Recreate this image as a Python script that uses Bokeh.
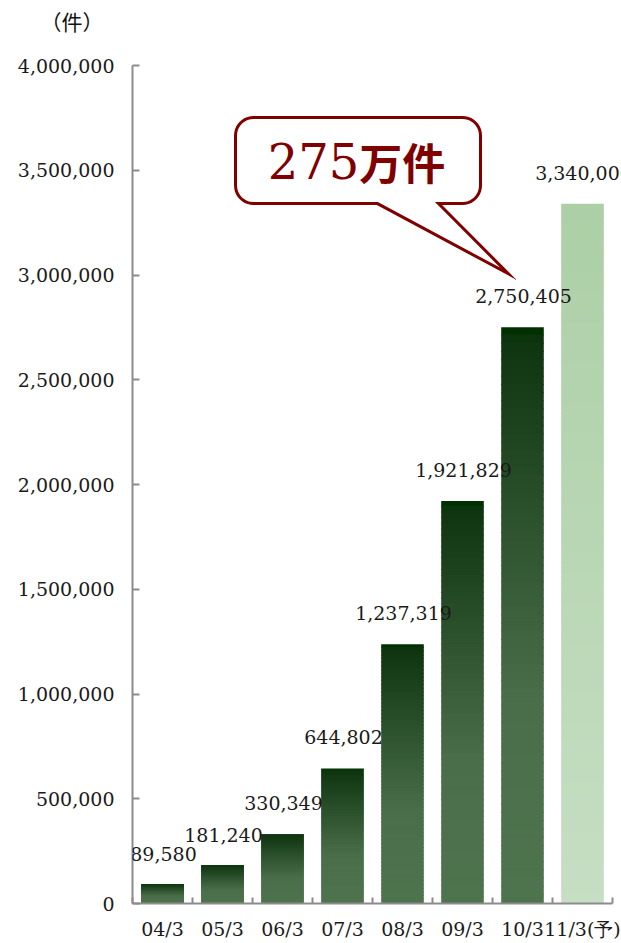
import math
from bokeh.plotting import figure
from bokeh.models import (Range1d, FixedTicker, NumeralTickFormatter, CustomJSTickFormatter,
                          ColumnDataSource, LabelSet)
from bokeh.core.properties import value
from bokeh.embed import file_html
from bokeh.resources import INLINE

# ---------------- data ----------------
categories = ["04/3", "05/3", "06/3", "07/3", "08/3", "09/3", "10/3", "11/3(予)"]
counts = [89580, 181240, 330349, 644802, 1237319, 1921829, 2750405, 3340000]
is_forecast = [False, False, False, False, False, False, False, True]
y_ticks = [0, 500000, 1000000, 1500000, 2000000, 2500000, 3000000, 3500000, 4000000]
unit_label = "（件）"
callout_number = "275"
callout_unit = "万件"
callout_bar_index = 6   # the 10/3 bar the callout points to

# ---------------- layout ----------------
W, H = 621, 943
BL, BR, BT, BB = 132, 0, 65, 40
X_END = 8.15
Y_END = 4000000
px_x = (W - BL - BR) / X_END          # px per category unit
px_y = (H - BT - BB) / Y_END          # px per count

p = figure(width=W, height=H, output_backend="svg", toolbar_location=None,
           x_range=Range1d(0, X_END), y_range=Range1d(0, Y_END),
           min_border_left=BL, min_border_right=BR, min_border_top=BT, min_border_bottom=BB)
p.outline_line_color = None
p.xgrid.visible = False
p.ygrid.visible = False
p.background_fill_color = "white"
p.border_fill_color = "white"

AXIS_COLOR = "#8c8c8c"
TXT = "#1a1a1a"

# ---------------- unit label (title, second line empty to lift it) ----------------
p.title.text = unit_label + "\n\u3000"
p.title.align = "left"
p.title.vertical_align = "bottom"
p.title.offset = 40 - BL
p.title.standoff = 0
p.title.text_line_height = 1.0
p.title.text_font = "Noto Sans CJK JP"
p.title.text_font_size = "21px"
p.title.text_font_style = "normal"
p.title.text_color = "#111111"

# ---------------- gradient bars ----------------
def hex2rgb(h):
    h = h.lstrip("#")
    return tuple(int(h[i:i + 2], 16) for i in (0, 2, 4))

dark_stops = [(0.0, "#003000"), (0.012, "#003000"), (0.025, "#0f3510"),
              (0.65, "#4a6e4a"), (1.0, "#4e744e")]
light_stops = [(0.0, "#accfa6"), (1.0, "#c6dec3")]

def grad(stops, t):
    for (t0, c0), (t1, c1) in zip(stops[:-1], stops[1:]):
        if t <= t1:
            f = 0 if t1 == t0 else (t - t0) / (t1 - t0)
            a, b = hex2rgb(c0), hex2rgb(c1)
            return "#%02x%02x%02x" % tuple(int(round(a[i] + (b[i] - a[i]) * f)) for i in range(3))
    return stops[-1][1]

N = 70
BAR_W = 0.71
overlap = 1.0 / px_y
L, R, B, T, C = [], [], [], [], []
for i, (v, fc) in enumerate(zip(counts, is_forecast)):
    xc = i + 0.5
    stops = light_stops if fc else dark_stops
    for k in range(N):
        t0, t1 = k / N, (k + 1) / N
        L.append(xc - BAR_W / 2)
        R.append(xc + BAR_W / 2)
        T.append(v * (1 - t0) + (overlap if k > 0 else 0))
        B.append(v * (1 - t1))
        C.append(grad(stops, (t0 + t1) / 2))
p.quad(left=L, right=R, bottom=B, top=T, fill_color=C, line_color=None)

# ---------------- value labels ----------------
lab_src = ColumnDataSource(dict(x=[i + 0.5 for i in range(len(counts))], y=counts,
                                text=[f"{v:,}" for v in counts]))
p.add_layout(LabelSet(x="x", y="y", text="text", source=lab_src, text_align="center",
                      text_baseline="middle", x_offset=1, y_offset=31,
                      text_font=value("DejaVu Serif"), text_font_size=value("19px"),
                      text_color=TXT))

# ---------------- axes ----------------
xa = p.xaxis[0]
xa.ticker = FixedTicker(ticks=[i + 0.5 for i in range(len(categories))],
                        minor_ticks=list(range(len(categories) + 1)))
xa.formatter = CustomJSTickFormatter(args=dict(labels=categories),
                                     code="const i = Math.floor(tick); return (i >= 0 && i < labels.length) ? labels[i] : '';")
xa.bounds = (0, len(categories))
xa.axis_line_color = AXIS_COLOR
xa.axis_line_width = 2
xa.major_tick_line_color = None
xa.major_tick_in = 0
xa.major_tick_out = 0
xa.minor_tick_line_color = AXIS_COLOR
xa.minor_tick_line_width = 2
xa.minor_tick_in = 6
xa.minor_tick_out = 0
xa.major_label_standoff = 14
xa.major_label_text_font = "DejaVu Serif"
xa.major_label_text_font_size = "19px"
xa.major_label_text_color = TXT

ya = p.yaxis[0]
ya.ticker = FixedTicker(ticks=y_ticks)
ya.formatter = NumeralTickFormatter(format="0,0")
ya.axis_line_color = AXIS_COLOR
ya.axis_line_width = 2
ya.major_tick_line_color = AXIS_COLOR
ya.major_tick_line_width = 2
ya.major_tick_in = 7
ya.major_tick_out = 0
ya.minor_tick_line_color = None
ya.major_label_standoff = 18
ya.major_label_text_font = "DejaVu Serif"
ya.major_label_text_font_size = "19px"
ya.major_label_text_color = TXT

# ---------------- callout ----------------
DR = "#800000"
box_l, box_r = 1.717, 5.8
box_t, box_b = 3752000, 3341000
rx, ry = 18 / px_x, 18 / px_y
tail_l, tail_r = 4.083, 5.1
tip_x = callout_bar_index + 0.5 - 0.233
tip_y = counts[callout_bar_index] + 255000

def arc(cx, cy, a0, a1, n=10):
    return [(cx + rx * math.cos(math.radians(a0 + (a1 - a0) * j / n)),
             cy + ry * math.sin(math.radians(a0 + (a1 - a0) * j / n))) for j in range(n + 1)]

pts = []
pts += arc(box_r - rx, box_t - ry, 90, 0)
pts += arc(box_r - rx, box_b + ry, 0, -90)
pts += [(tail_r, box_b), (tip_x, tip_y), (tail_l, box_b)]
pts += arc(box_l + rx, box_b + ry, -90, -180)
pts += arc(box_l + rx, box_t - ry, 180, 90)
p.patch([q[0] for q in pts], [q[1] for q in pts], fill_color="white",
        line_color=DR, line_width=3, line_join="miter")

junction_x = 3.78
text_mid_y = 3541800
p.text(x=[junction_x], y=[text_mid_y], text=[callout_number], text_align="right",
       text_baseline="middle", text_font=value("DejaVu Serif"),
       text_font_size="48px", text_color=DR)
p.text(x=[junction_x], y=[text_mid_y], text=[callout_unit], text_align="left",
       text_baseline="middle", text_font=value("Noto Sans CJK JP"),
       text_font_size="43px", text_font_style="bold", text_color=DR)

open("out.html", "w").write(file_html(p, INLINE))
